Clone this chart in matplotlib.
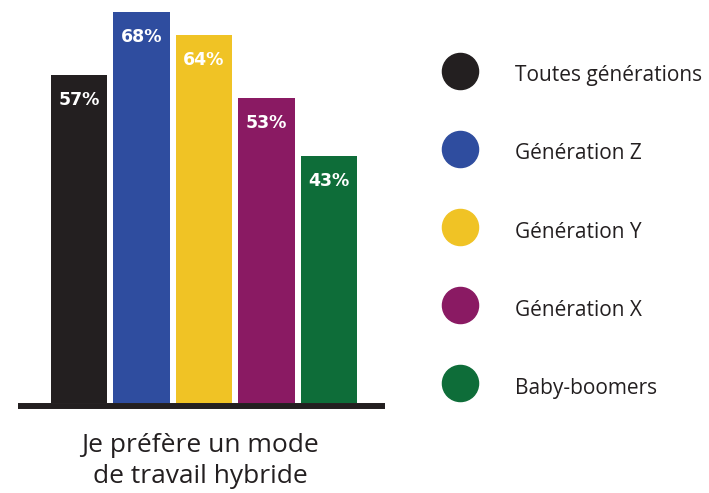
import matplotlib
matplotlib.use('Agg')
import matplotlib.pyplot as plt
from matplotlib.lines import Line2D

# data
groups = ['Toutes générations', 'Génération Z', 'Génération Y',
          'Génération X', 'Baby-boomers']
values = [57, 68, 64, 53, 43]
colors = ['#231f20', '#2f4d9f', '#f0c325', '#8a1a63', '#0e6d39']
title = 'Je préfère un mode\nde travail hybride'

W, H = 709, 493
fig = plt.figure(figsize=(W / 100, H / 100), dpi=100)

# bar axes (pixel based layout)
ax = fig.add_axes([18 / W, (H - 406) / H, 367 / W, 403 / H])
x = range(len(values))
bars = ax.bar(x, values, width=0.9, color=colors, zorder=1)
ax.set_xlim(-0.976, 4.896)
ax.set_ylim(-0.52, 69.6)

for b, v in zip(bars, values):
    ax.annotate(f'{v}%', (b.get_x() + b.get_width() / 2, v),
                xytext=(0, -18), textcoords='offset points',
                ha='center', va='center', color='white',
                fontsize=12.5, fontweight='heavy', family='DejaVu Sans')

for s in ['top', 'left', 'right']:
    ax.spines[s].set_visible(False)
ax.spines['bottom'].set_linewidth(4.3)
ax.spines['bottom'].set_color('#231f20')
ax.spines['bottom'].set_capstyle('butt')
ax.spines['bottom'].set_zorder(3)
ax.set_xticks([])
ax.set_yticks([])

fig.text(200 / W, (H - 433) / H, title, ha='center', va='top',
         fontsize=19, family='Open Sans', color='#231f20', linespacing=1.3)

# legend with round markers
handles = [Line2D([], [], linestyle='none', marker='o', markersize=26,
                  markerfacecolor=c, markeredgecolor=c) for c in colors]
fig.legend(handles, groups, loc='upper left',
           bbox_to_anchor=(442 / W, (H - 60) / H), frameon=False,
           borderpad=0, borderaxespad=0, handlelength=1.75, handleheight=1.75,
           handletextpad=1.75, labelspacing=2.37,
           prop={'family': 'Open Sans', 'size': 15}, labelcolor='#231f20')

fig.savefig('out.png', dpi=100)
